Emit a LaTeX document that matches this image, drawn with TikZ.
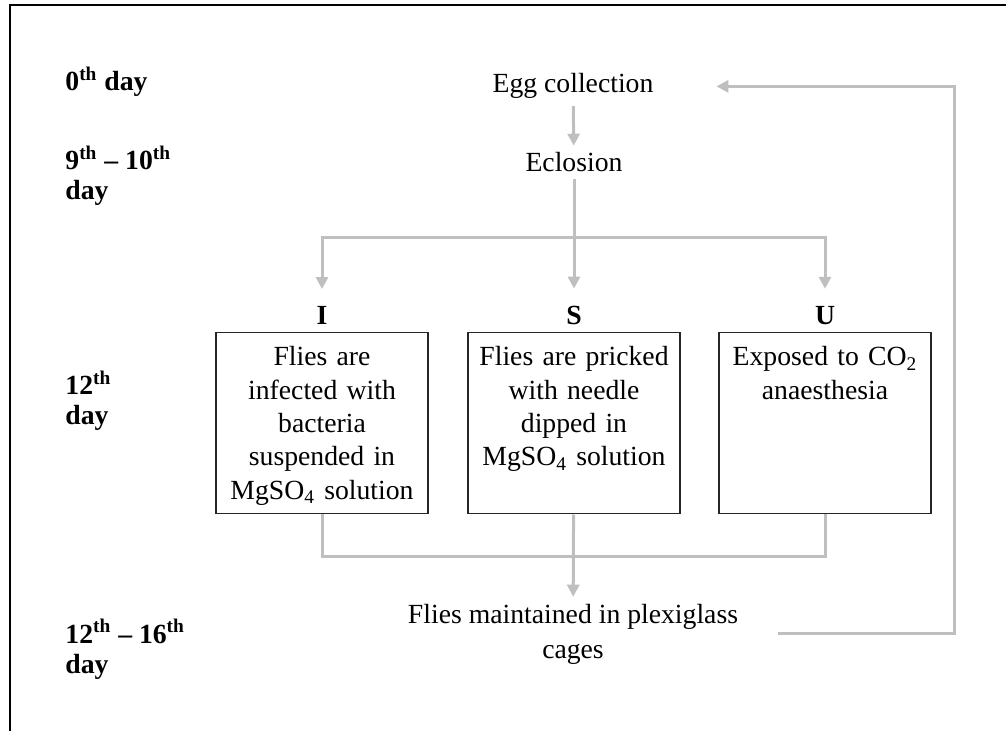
\documentclass[tikz,border=0pt]{standalone}
\usepackage{fontspec}
\setmainfont{Liberation Serif}
\usetikzlibrary{arrows.meta, positioning}
\definecolor{linegray}{RGB}{191,191,191}

\begin{document}
\begin{tikzpicture}[
  x=0.5pt, y=-0.5pt,
  txt/.style={font=\fontsize{13.85pt}{17.5pt}\selectfont, align=center},
  day/.style={font=\fontsize{13.85pt}{15pt}\selectfont\bfseries, align=left, anchor=base west, inner sep=0pt},
  grp/.style={font=\fontsize{13.85pt}{15pt}\selectfont\bfseries, inner sep=0pt},
  box/.style={draw=black!85, line width=0.75pt, anchor=north, text width=100pt, inner xsep=3pt, inner ysep=0pt,
    text height=16.5pt, text depth=74pt, align=center, font=\fontsize{13.85pt}{16.7pt}\selectfont},
  flow/.style={draw=linegray, line width=1.5pt},
  >={Triangle[length=6pt,width=6pt]}
]
\useasboundingbox (0,0) rectangle (1006,731);
\draw[line width=1pt] (1006,5) -- (10,5) -- (10,731);

% time line
\node[day] (d0) at (65,91)  {0\textsuperscript{th} day};
\node[day] (d1) at (65,200) {9\textsuperscript{th} – 10\textsuperscript{th}\\day};
\node[day] (d2) at (65,425) {12\textsuperscript{th}\\day};
\node[day] (d3) at (65,673) {12\textsuperscript{th} – 16\textsuperscript{th}\\day};

% main flow
\node[txt, anchor=base] (egg)  at (573,93)  {Egg collection};
\node[txt, anchor=base] (ecl)  at (574,172) {Eclosion};
\node[box] (bi) at (322,332) {Flies are\\infected with\\bacteria\\suspended in\\MgSO\textsubscript{4} solution};
\node[box] (bs) at (574,332) {Flies are pricked\\with needle\\dipped in\\MgSO\textsubscript{4} solution};
\node[box] (bu) at (825,332) {Exposed to CO\textsubscript{2}\\anaesthesia};
\node[grp, above=3.5pt of bi] (ti) {I};
\node[grp, above=3.5pt of bs] (ts) {S};
\node[grp, above=3.5pt of bu] (tu) {U};
\node[txt, anchor=base] (cage) at (573,658) {Flies maintained in plexiglass\\cages};

\coordinate (split) at (574,238);
\coordinate (join)  at (574,556);
\coordinate (back)  at (954,0);

\draw[flow,->] (egg) -- (ecl);
\draw[flow] (ecl) -- (split);
\draw[flow,->,shorten >=8.5pt] (split) -| (ti);
\draw[flow,->,shorten >=8.5pt] (split) -- (ts);
\draw[flow,->,shorten >=8.5pt] (split) -| (tu);
\draw[flow] (bi) |- (join) -| (bu);
\draw[flow,->] (bs) -- (cage);
\draw[flow,->,shorten <=16.5pt,shorten >=28pt] (cage.east) -- (cage.east -| back) -- (egg.east -| back) -- (egg.east);
\end{tikzpicture}
\end{document}
